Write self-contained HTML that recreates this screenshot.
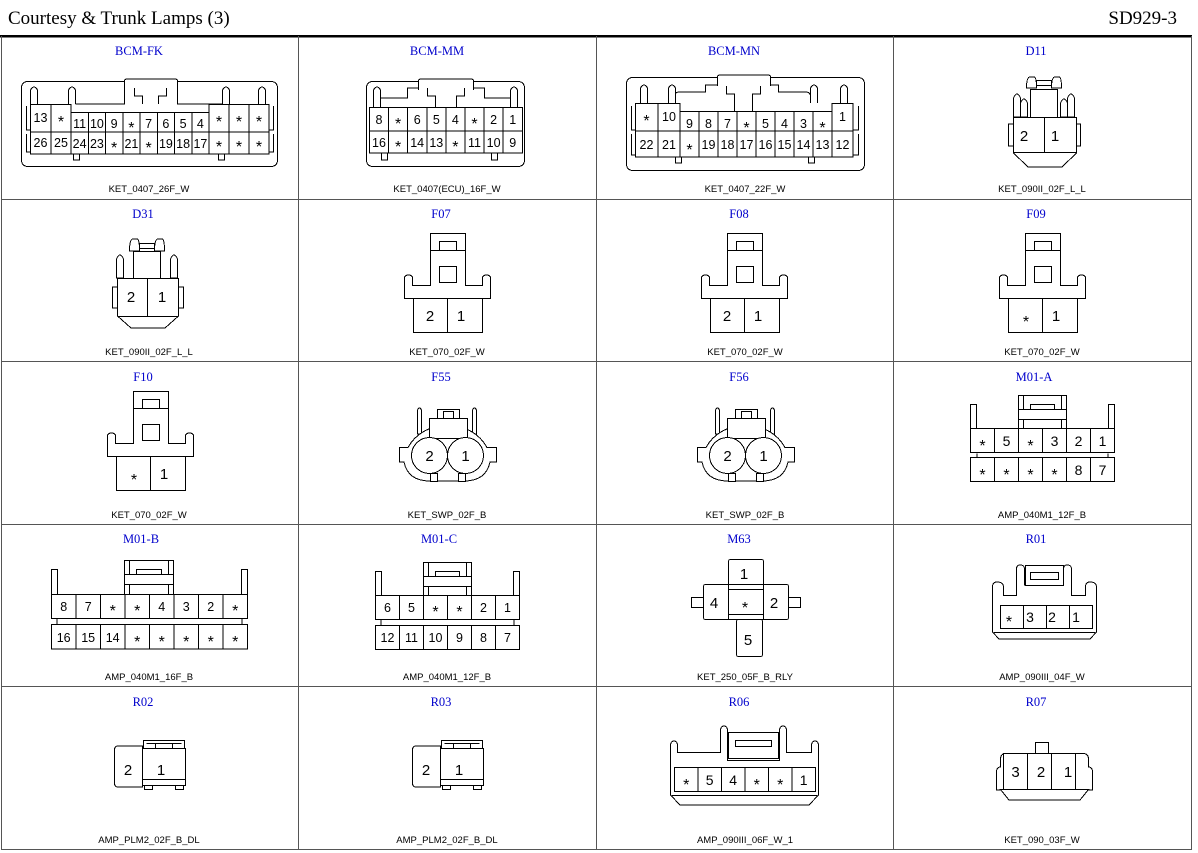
<!DOCTYPE html>
<html><head><meta charset="utf-8"><style>
html,body{margin:0;padding:0;background:#fff}
svg{display:block}
.s{fill:none;stroke:#000;stroke-width:1}
.w{fill:#fff;stroke:#000;stroke-width:1}
.t{font-family:"Liberation Serif",serif;font-size:12.5px;fill:#0000cc;text-anchor:middle}
.b{font-family:"Liberation Sans",sans-serif;font-size:9.5px;fill:#000;text-anchor:middle}
.n{font-family:"Liberation Sans",sans-serif;font-size:12.5px;fill:#000;text-anchor:middle}
.k{font-family:"Liberation Sans",sans-serif;font-size:16px;fill:#000;text-anchor:middle}
</style></head><body>
<svg width="1198" height="853" viewBox="0 0 1198 853" xmlns="http://www.w3.org/2000/svg" shape-rendering="crispEdges">
<!-- header -->
<text x="8" y="24" font-family="Liberation Serif,serif" font-size="19">Courtesy &amp; Trunk Lamps (3)</text>
<text x="1177" y="24" font-family="Liberation Serif,serif" font-size="19" text-anchor="end">SD929-3</text>
<rect x="0" y="35" width="1192" height="2.5" fill="#000"/>
<!-- grid -->
<g stroke="#555" stroke-width="1">
<line x1="1.5" y1="36" x2="1.5" y2="850"/>
<line x1="298.5" y1="36" x2="298.5" y2="850"/>
<line x1="596.5" y1="36" x2="596.5" y2="850"/>
<line x1="893.5" y1="36" x2="893.5" y2="850"/>
<line x1="1191.5" y1="36" x2="1191.5" y2="850"/>
<line x1="1" y1="199.5" x2="1192" y2="199.5"/>
<line x1="1" y1="361.5" x2="1192" y2="361.5"/>
<line x1="1" y1="524.5" x2="1192" y2="524.5"/>
<line x1="1" y1="686.5" x2="1192" y2="686.5"/>
<line x1="1" y1="849.5" x2="1192" y2="849.5"/>
</g>
<!-- titles -->
<g class="t">
<text x="139" y="55">BCM-FK</text><text x="437" y="55">BCM-MM</text><text x="734" y="55">BCM-MN</text><text x="1036" y="55">D11</text>
<text x="143" y="218">D31</text><text x="441" y="218">F07</text><text x="739" y="218">F08</text><text x="1036" y="218">F09</text>
<text x="143" y="381">F10</text><text x="441" y="381">F55</text><text x="739" y="381">F56</text><text x="1034" y="381">M01-A</text>
<text x="141" y="543">M01-B</text><text x="439" y="543">M01-C</text><text x="739" y="543">M63</text><text x="1036" y="543">R01</text>
<text x="143" y="706">R02</text><text x="441" y="706">R03</text><text x="739" y="706">R06</text><text x="1036" y="706">R07</text>
</g>
<g class="b">
<text x="149" y="192">KET_0407_26F_W</text><text x="447" y="192">KET_0407(ECU)_16F_W</text><text x="745" y="192">KET_0407_22F_W</text><text x="1042" y="192">KET_090II_02F_L_L</text>
<text x="149" y="355">KET_090II_02F_L_L</text><text x="447" y="355">KET_070_02F_W</text><text x="745" y="355">KET_070_02F_W</text><text x="1042" y="355">KET_070_02F_W</text>
<text x="149" y="518">KET_070_02F_W</text><text x="447" y="518">KET_SWP_02F_B</text><text x="745" y="518">KET_SWP_02F_B</text><text x="1042" y="518">AMP_040M1_12F_B</text>
<text x="149" y="680">AMP_040M1_16F_B</text><text x="447" y="680">AMP_040M1_12F_B</text><text x="745" y="680">KET_250_05F_B_RLY</text><text x="1042" y="680">AMP_090III_04F_W</text>
<text x="149" y="843">AMP_PLM2_02F_B_DL</text><text x="447" y="843">AMP_PLM2_02F_B_DL</text><text x="745" y="843">AMP_090III_06F_W_1</text><text x="1042" y="843">KET_090_03F_W</text>
</g>

<!-- BCM-FK -->
<g>
<rect class="w" x="21.5" y="81.5" width="256" height="85" rx="6"/>
<path class="s" d="M30.5 104 V90 Q34 84 37.5 90 V104 M68.5 104 V90 Q72 84 75.5 90 V104 M222.5 104 V90 Q226 84 229.5 90 V104 M258.5 104 V90 Q262 84 265.5 90 V104"/>
<path class="s" d="M75.5 104 H124.5 V88 H177.5 V104 H222.5"/>
<path class="w" d="M124.5 90 V81 Q124.5 79 127 79 H175 Q177.5 79 177.5 81 V90"/>
<path class="s" d="M134.5 88 V96 H142.5 V104 M158.5 104 V96 H166.5 V88"/>
<path class="s" d="M26.5 106 V130 H30.5 M26.5 134 V152 H30.5 M273.5 106 V130 H269.5 M273.5 134 V152 H269.5"/>
<path class="s" d="M73.5 154 V160 H79.5 V154 M218.5 154 V160 H224.5 V154"/>
<g class="w">
<rect x="30.5" y="104.5" width="20.5" height="27.5"/><rect x="51" y="104.5" width="20" height="27.5"/>
<rect x="30.5" y="132" width="20.5" height="22"/><rect x="51" y="132" width="20" height="22"/>
<rect x="71" y="112.5" width="17.25" height="19.5"/><rect x="88.25" y="112.5" width="17.25" height="19.5"/><rect x="105.5" y="112.5" width="17.25" height="19.5"/><rect x="122.75" y="112.5" width="17.25" height="19.5"/><rect x="140" y="112.5" width="17.25" height="19.5"/><rect x="157.25" y="112.5" width="17.25" height="19.5"/><rect x="174.5" y="112.5" width="17.25" height="19.5"/><rect x="191.75" y="112.5" width="17.25" height="19.5"/>
<rect x="71" y="132" width="17.25" height="22"/><rect x="88.25" y="132" width="17.25" height="22"/><rect x="105.5" y="132" width="17.25" height="22"/><rect x="122.75" y="132" width="17.25" height="22"/><rect x="140" y="132" width="17.25" height="22"/><rect x="157.25" y="132" width="17.25" height="22"/><rect x="174.5" y="132" width="17.25" height="22"/><rect x="191.75" y="132" width="17.25" height="22"/>
<rect x="209" y="104.5" width="20" height="27.5"/><rect x="229" y="104.5" width="20" height="27.5"/><rect x="249" y="104.5" width="20" height="27.5"/>
<rect x="209" y="132" width="20" height="22"/><rect x="229" y="132" width="20" height="22"/><rect x="249" y="132" width="20" height="22"/>
</g>
<g class="n"><text x="40.5" y="122">13</text><text x="40.5" y="147">26</text><text x="61" y="147">25</text>
<text x="79.6" y="128">11</text><text x="96.9" y="128">10</text><text x="114.1" y="128">9</text><text x="148.6" y="128">7</text><text x="165.9" y="128">6</text><text x="183.1" y="128">5</text><text x="200.4" y="128">4</text>
<text x="79.6" y="148">24</text><text x="96.9" y="148">23</text><text x="131.4" y="148">21</text><text x="165.9" y="148">19</text><text x="183.1" y="148">18</text><text x="200.4" y="148">17</text></g>
<g class="k"><text x="61" y="127">*</text><text x="131.4" y="133">*</text><text x="114.1" y="153">*</text><text x="148.6" y="153">*</text>
<text x="219" y="127">*</text><text x="239" y="127">*</text><text x="259" y="127">*</text><text x="219" y="152">*</text><text x="239" y="152">*</text><text x="259" y="152">*</text></g>
</g>

<!-- BCM-MM -->
<g>
<rect class="w" x="366.5" y="81.5" width="158" height="85" rx="6"/>
<path class="s" d="M373.5 107 V90 Q377 84 380.5 90 V107 M510.5 107 V90 Q514 84 517.5 90 V107"/>
<path class="s" d="M380.5 98 H407.5 V88 H484.5 V98 H510.5"/>
<path class="w" d="M418.5 90 V81 Q418.5 79 421 79 H471 Q473.5 79 473.5 81 V90"/>
<path class="s" d="M427.5 88 V96 H435.5 V107 M456.5 107 V96 H464.5 V88"/>
<path class="s" d="M381.5 153 V160 H387.5 V153 M491.5 153 V160 H497.5 V153"/>
<g class="w">
<rect x="369.5" y="107.5" width="19.1" height="23.5"/><rect x="388.6" y="107.5" width="19.1" height="23.5"/><rect x="407.7" y="107.5" width="19.1" height="23.5"/><rect x="426.8" y="107.5" width="19.1" height="23.5"/><rect x="445.9" y="107.5" width="19.1" height="23.5"/><rect x="465" y="107.5" width="19.1" height="23.5"/><rect x="484.1" y="107.5" width="19.1" height="23.5"/><rect x="503.2" y="107.5" width="19.1" height="23.5"/>
<rect x="369.5" y="131" width="19.1" height="22"/><rect x="388.6" y="131" width="19.1" height="22"/><rect x="407.7" y="131" width="19.1" height="22"/><rect x="426.8" y="131" width="19.1" height="22"/><rect x="445.9" y="131" width="19.1" height="22"/><rect x="465" y="131" width="19.1" height="22"/><rect x="484.1" y="131" width="19.1" height="22"/><rect x="503.2" y="131" width="19.1" height="22"/>
</g>
<g class="n"><text x="379" y="124">8</text><text x="417.2" y="124">6</text><text x="436.3" y="124">5</text><text x="455.4" y="124">4</text><text x="493.6" y="124">2</text><text x="512.7" y="124">1</text>
<text x="379" y="147">16</text><text x="417.2" y="147">14</text><text x="436.3" y="147">13</text><text x="474.5" y="147">11</text><text x="493.6" y="147">10</text><text x="512.7" y="147">9</text></g>
<g class="k"><text x="398.1" y="129">*</text><text x="474.5" y="129">*</text><text x="398.1" y="152">*</text><text x="455.4" y="152">*</text></g>
</g>

<!-- BCM-MN -->
<g>
<rect class="w" x="626.5" y="77.5" width="238" height="93" rx="6"/>
<path class="s" d="M640.5 103 V88 Q644 82 647.5 88 V103 M668.5 103 V88 Q672 82 675.5 88 V103 M810.5 103 V88 Q814 82 817.5 88 V103 M840.5 103 V88 Q844 82 847.5 88 V103"/>
<path class="s" d="M675.5 111 V94 Q675.5 92 680 92 H705.5 V85 H778.5 V92 H805 Q810.5 92 810.5 96"/>
<path class="w" d="M717.5 86 V77 Q717.5 75 720 75 H768 Q770.5 75 770.5 77 V86"/>
<path class="s" d="M726.5 86 V94 H734.5 V111 M752.5 111 V94 H760.5 V86"/>
<path class="s" d="M631.5 106 V130 H635.5 M631.5 134 V155 H635.5 M858.5 106 V130 H853.5 M858.5 134 V155 H853.5"/>
<path class="s" d="M675.5 157 V163 H681.5 V157 M808.5 157 V163 H814.5 V157"/>
<g class="w">
<rect x="635.5" y="103.5" width="22.5" height="27.5"/><rect x="658" y="103.5" width="22" height="27.5"/>
<rect x="635.5" y="131" width="22.5" height="26"/><rect x="658" y="131" width="22" height="26"/>
<rect x="680" y="111.5" width="19" height="19.5"/><rect x="699" y="111.5" width="19" height="19.5"/><rect x="718" y="111.5" width="19" height="19.5"/><rect x="737" y="111.5" width="19" height="19.5"/><rect x="756" y="111.5" width="19" height="19.5"/><rect x="775" y="111.5" width="19" height="19.5"/><rect x="794" y="111.5" width="19" height="19.5"/><rect x="813" y="111.5" width="19" height="19.5"/>
<rect x="680" y="131" width="19" height="26"/><rect x="699" y="131" width="19" height="26"/><rect x="718" y="131" width="19" height="26"/><rect x="737" y="131" width="19" height="26"/><rect x="756" y="131" width="19" height="26"/><rect x="775" y="131" width="19" height="26"/><rect x="794" y="131" width="19" height="26"/><rect x="813" y="131" width="19" height="26"/>
<rect x="832" y="103.5" width="21" height="27.5"/><rect x="832" y="131" width="21" height="26"/>
</g>
<g class="n"><text x="669" y="121">10</text><text x="689.5" y="128">9</text><text x="708.5" y="128">8</text><text x="727.5" y="128">7</text><text x="765.5" y="128">5</text><text x="784.5" y="128">4</text><text x="803.5" y="128">3</text><text x="842.5" y="121">1</text>
<text x="646.5" y="149">22</text><text x="669" y="149">21</text><text x="708.5" y="149">19</text><text x="727.5" y="149">18</text><text x="746.5" y="149">17</text><text x="765.5" y="149">16</text><text x="784.5" y="149">15</text><text x="803.5" y="149">14</text><text x="822.5" y="149">13</text><text x="842.5" y="149">12</text></g>
<g class="k"><text x="646.5" y="126">*</text><text x="746.5" y="133">*</text><text x="822.5" y="133">*</text><text x="689.5" y="155">*</text></g>
</g>

<!-- D11 -->
<g>
<path class="w" d="M1026.5 88 Q1026.5 77 1030 77 H1034 Q1036.5 77 1036.5 88 Z M1051.5 88 Q1051.5 77 1055 77 H1059 Q1061.5 77 1061.5 88 Z"/>
<rect class="w" x="1036.5" y="80.5" width="15" height="5"/>
<rect class="w" x="1030.5" y="89.5" width="27" height="28"/>
<path class="w" d="M1013.5 117 V98 Q1017 90 1020.5 98 V117 Z M1067.5 117 V98 Q1071 90 1074.5 98 V117 Z M1020.5 117 V103 Q1024 95 1027.5 103 V117 Z M1060.5 117 V103 Q1064 95 1067.5 103 V117 Z"/>
<path class="w" d="M1008.5 124 H1013.5 V146 H1008.5 Z M1076.5 124 H1080.5 V146 H1076.5 Z"/>
<path class="w" d="M1013.5 117.5 H1076.5 V153 L1062 167 H1028 L1013.5 153 Z"/>
<line class="s" x1="1013.5" y1="152.5" x2="1076.5" y2="152.5"/>
<line class="s" x1="1044.5" y1="117.5" x2="1044.5" y2="152.5"/>
<g class="n" style="font-size:15px"><text x="1024" y="141">2</text><text x="1055" y="141">1</text></g>
</g>

<!-- D31 -->
<g>
<path class="w" d="M129.5 251 Q129.5 239 133 239 H137 Q139.5 239 139.5 251 Z M154.5 251 Q154.5 239 158 239 H162 Q164.5 239 164.5 251 Z"/>
<rect class="w" x="139.5" y="243.5" width="15" height="5"/>
<rect class="w" x="133.5" y="251.5" width="27" height="27"/>
<path class="w" d="M116.5 278 V259 Q120 251 123.5 259 V278 Z M170.5 278 V259 Q174 251 177.5 259 V278 Z"/>
<path class="w" d="M112.5 287 H117.5 V308 H112.5 Z M178.5 287 H183.5 V308 H178.5 Z"/>
<path class="w" d="M117.5 278.5 H178.5 V316 L165 328 H131 L117.5 316 Z"/>
<line class="s" x1="117.5" y1="316.5" x2="178.5" y2="316.5"/>
<line class="s" x1="147.5" y1="278.5" x2="147.5" y2="316.5"/>
<g class="n" style="font-size:15px"><text x="131" y="302">2</text><text x="162" y="302">1</text></g>
</g>

<!-- F07 / F08 / F09 / F10 (KET_070 shape) -->
<g id="f07">
<path class="w" d="M404.5 298.5 V278 Q404.5 275 408.5 275 Q412.5 275 412.5 278 V285.5 H430.5 V233.5 H465.5 V285.5 H482.5 V278 Q482.5 275 486.5 275 Q490.5 275 490.5 278 V298.5 Z"/>
<line class="s" x1="430.5" y1="250.5" x2="465.5" y2="250.5"/>
<rect class="w" x="439.5" y="241.5" width="17" height="9"/>
<rect class="w" x="439.5" y="266.5" width="17" height="16"/>
<rect class="w" x="413.5" y="298.5" width="69" height="34"/>
<line class="s" x1="447.5" y1="298.5" x2="447.5" y2="332.5"/>
</g>
<g class="n" style="font-size:15px"><text x="430" y="321">2</text><text x="461" y="321">1</text></g>
<g transform="translate(297,0)">
<path class="w" d="M404.5 298.5 V278 Q404.5 275 408.5 275 Q412.5 275 412.5 278 V285.5 H430.5 V233.5 H465.5 V285.5 H482.5 V278 Q482.5 275 486.5 275 Q490.5 275 490.5 278 V298.5 Z"/>
<line class="s" x1="430.5" y1="250.5" x2="465.5" y2="250.5"/>
<rect class="w" x="439.5" y="241.5" width="17" height="9"/>
<rect class="w" x="439.5" y="266.5" width="17" height="16"/>
<rect class="w" x="413.5" y="298.5" width="69" height="34"/>
<line class="s" x1="447.5" y1="298.5" x2="447.5" y2="332.5"/>
<g class="n" style="font-size:15px"><text x="430" y="321">2</text><text x="461" y="321">1</text></g>
</g>
<g transform="translate(595,0)">
<path class="w" d="M404.5 298.5 V278 Q404.5 275 408.5 275 Q412.5 275 412.5 278 V285.5 H430.5 V233.5 H465.5 V285.5 H482.5 V278 Q482.5 275 486.5 275 Q490.5 275 490.5 278 V298.5 Z"/>
<line class="s" x1="430.5" y1="250.5" x2="465.5" y2="250.5"/>
<rect class="w" x="439.5" y="241.5" width="17" height="9"/>
<rect class="w" x="439.5" y="266.5" width="17" height="16"/>
<rect class="w" x="413.5" y="298.5" width="69" height="34"/>
<line class="s" x1="447.5" y1="298.5" x2="447.5" y2="332.5"/>
<g class="n" style="font-size:15px"><text x="461" y="321">1</text></g>
<text class="k" x="431" y="327">*</text>
</g>
<g transform="translate(-297,158)">
<path class="w" d="M404.5 298.5 V278 Q404.5 275 408.5 275 Q412.5 275 412.5 278 V285.5 H430.5 V233.5 H465.5 V285.5 H482.5 V278 Q482.5 275 486.5 275 Q490.5 275 490.5 278 V298.5 Z"/>
<line class="s" x1="430.5" y1="250.5" x2="465.5" y2="250.5"/>
<rect class="w" x="439.5" y="241.5" width="17" height="9"/>
<rect class="w" x="439.5" y="266.5" width="17" height="16"/>
<rect class="w" x="413.5" y="298.5" width="69" height="34"/>
<line class="s" x1="447.5" y1="298.5" x2="447.5" y2="332.5"/>
<g class="n" style="font-size:15px"><text x="461" y="321">1</text></g>
<text class="k" x="431" y="327">*</text>
</g>

<!-- F55 / F56 -->
<g transform="translate(-298,0)">
<path class="w" d="M715.5 434 V410 Q717.5 406 719.5 410 V434 Z M770.5 434 V410 Q772.5 406 774.5 410 V434 Z"/>
<path class="w" d="M697.5 447.5 H706 A44 40 0 0 1 785 447.5 H794.5 V462 H788 Q784 481 762 481 H728 Q706 481 702 462 H697.5 Z"/>
<rect class="w" x="727.5" y="418.5" width="38" height="20"/>
<rect class="w" x="735.5" y="409.5" width="22" height="9"/>
<rect class="w" x="741.5" y="411.5" width="10" height="7"/>
<rect class="w" x="728.5" y="473.5" width="7" height="8"/><rect class="w" x="756.5" y="473.5" width="7" height="8"/>
<circle class="w" cx="727.5" cy="455.5" r="18"/>
<circle class="w" cx="763.5" cy="455.5" r="18"/>
<g class="n" style="font-size:15px"><text x="727.5" y="461">2</text><text x="763.5" y="461">1</text></g>
</g>
<g>
<path class="w" d="M715.5 434 V410 Q717.5 406 719.5 410 V434 Z M770.5 434 V410 Q772.5 406 774.5 410 V434 Z"/>
<path class="w" d="M697.5 447.5 H706 A44 40 0 0 1 785 447.5 H794.5 V462 H788 Q784 481 762 481 H728 Q706 481 702 462 H697.5 Z"/>
<rect class="w" x="727.5" y="418.5" width="38" height="20"/>
<rect class="w" x="735.5" y="409.5" width="22" height="9"/>
<rect class="w" x="741.5" y="411.5" width="10" height="7"/>
<rect class="w" x="728.5" y="473.5" width="7" height="8"/><rect class="w" x="756.5" y="473.5" width="7" height="8"/>
<circle class="w" cx="727.5" cy="455.5" r="18"/>
<circle class="w" cx="763.5" cy="455.5" r="18"/>
<g class="n" style="font-size:15px"><text x="727.5" y="461">2</text><text x="763.5" y="461">1</text></g>
</g>

<!-- M01-A -->
<g>
<rect class="w" x="970.5" y="404.5" width="6" height="24"/><rect class="w" x="1108.5" y="404.5" width="6" height="24"/>
<rect class="w" x="1018.5" y="395.5" width="48" height="33"/>
<rect class="w" x="1023.5" y="395.5" width="38" height="33"/>
<rect class="w" x="1018.5" y="409.5" width="48" height="10"/>
<rect class="w" x="1030.5" y="404.5" width="24" height="5"/>
<line class="s" x1="977" y1="453.5" x2="977" y2="458"/><line class="s" x1="1108" y1="453.5" x2="1108" y2="458"/>
<g class="w">
<rect x="970.5" y="428.5" width="24" height="24"/><rect x="994.5" y="428.5" width="24" height="24"/><rect x="1018.5" y="428.5" width="24" height="24"/><rect x="1042.5" y="428.5" width="24" height="24"/><rect x="1066.5" y="428.5" width="24" height="24"/><rect x="1090.5" y="428.5" width="24" height="24"/>
<rect x="970.5" y="457.5" width="24" height="24"/><rect x="994.5" y="457.5" width="24" height="24"/><rect x="1018.5" y="457.5" width="24" height="24"/><rect x="1042.5" y="457.5" width="24" height="24"/><rect x="1066.5" y="457.5" width="24" height="24"/><rect x="1090.5" y="457.5" width="24" height="24"/>
</g>
<g class="n" style="font-size:14px"><text x="1006.5" y="446">5</text><text x="1054.5" y="446">3</text><text x="1078.5" y="446">2</text><text x="1102.5" y="446">1</text><text x="1078.5" y="475">8</text><text x="1102.5" y="475">7</text></g>
<g class="k"><text x="982.5" y="451">*</text><text x="1030.5" y="451">*</text><text x="982.5" y="480">*</text><text x="1006.5" y="480">*</text><text x="1030.5" y="480">*</text><text x="1054.5" y="480">*</text></g>
</g>

<!-- M01-B -->
<g>
<rect class="w" x="51.5" y="569.5" width="6" height="25"/><rect class="w" x="241.5" y="569.5" width="6" height="25"/>
<rect class="w" x="124.5" y="560.5" width="49" height="34"/>
<rect class="w" x="129.5" y="560.5" width="39" height="34"/>
<rect class="w" x="124.5" y="574.5" width="49" height="10"/>
<rect class="w" x="136.5" y="569.5" width="25" height="5"/>
<line class="s" x1="57" y1="618.5" x2="57" y2="624"/><line class="s" x1="242" y1="618.5" x2="242" y2="624"/>
<g class="w">
<rect x="51.5" y="594.5" width="24.5" height="24"/><rect x="76" y="594.5" width="24.5" height="24"/><rect x="100.5" y="594.5" width="24.5" height="24"/><rect x="125" y="594.5" width="24.5" height="24"/><rect x="149.5" y="594.5" width="24.5" height="24"/><rect x="174" y="594.5" width="24.5" height="24"/><rect x="198.5" y="594.5" width="24.5" height="24"/><rect x="223" y="594.5" width="24.5" height="24"/>
<rect x="51.5" y="624.5" width="24.5" height="24.5"/><rect x="76" y="624.5" width="24.5" height="24.5"/><rect x="100.5" y="624.5" width="24.5" height="24.5"/><rect x="125" y="624.5" width="24.5" height="24.5"/><rect x="149.5" y="624.5" width="24.5" height="24.5"/><rect x="174" y="624.5" width="24.5" height="24.5"/><rect x="198.5" y="624.5" width="24.5" height="24.5"/><rect x="223" y="624.5" width="24.5" height="24.5"/>
</g>
<g class="n"><text x="63.7" y="611">8</text><text x="88.2" y="611">7</text><text x="161.7" y="611">4</text><text x="186.2" y="611">3</text><text x="210.7" y="611">2</text>
<text x="63.7" y="642">16</text><text x="88.2" y="642">15</text><text x="112.7" y="642">14</text></g>
<g class="k"><text x="112.7" y="616">*</text><text x="137.2" y="616">*</text><text x="235.2" y="616">*</text>
<text x="137.2" y="647">*</text><text x="161.7" y="647">*</text><text x="186.2" y="647">*</text><text x="210.7" y="647">*</text><text x="235.2" y="647">*</text></g>
</g>

<!-- M01-C -->
<g>
<rect class="w" x="375.5" y="571.5" width="6" height="24"/><rect class="w" x="513.5" y="571.5" width="6" height="24"/>
<rect class="w" x="423.5" y="562.5" width="48" height="33"/>
<rect class="w" x="428.5" y="562.5" width="38" height="33"/>
<rect class="w" x="423.5" y="576.5" width="48" height="10"/>
<rect class="w" x="435.5" y="571.5" width="24" height="5"/>
<line class="s" x1="381" y1="619.5" x2="381" y2="625"/><line class="s" x1="514" y1="619.5" x2="514" y2="625"/>
<g class="w">
<rect x="375.5" y="595.5" width="24" height="24"/><rect x="399.5" y="595.5" width="24" height="24"/><rect x="423.5" y="595.5" width="24" height="24"/><rect x="447.5" y="595.5" width="24" height="24"/><rect x="471.5" y="595.5" width="24" height="24"/><rect x="495.5" y="595.5" width="24" height="24"/>
<rect x="375.5" y="625.5" width="24" height="24"/><rect x="399.5" y="625.5" width="24" height="24"/><rect x="423.5" y="625.5" width="24" height="24"/><rect x="447.5" y="625.5" width="24" height="24"/><rect x="471.5" y="625.5" width="24" height="24"/><rect x="495.5" y="625.5" width="24" height="24"/>
</g>
<g class="n"><text x="387.5" y="612">6</text><text x="411.5" y="612">5</text><text x="483.5" y="612">2</text><text x="507.5" y="612">1</text>
<text x="387.5" y="642">12</text><text x="411.5" y="642">11</text><text x="435.5" y="642">10</text><text x="459.5" y="642">9</text><text x="483.5" y="642">8</text><text x="507.5" y="642">7</text></g>
<g class="k"><text x="435.5" y="617">*</text><text x="459.5" y="617">*</text></g>
</g>

<!-- M63 -->
<g>
<rect class="w" x="691.5" y="597.5" width="12" height="10"/><rect class="w" x="788.5" y="597.5" width="12" height="10"/>
<rect class="w" x="728.5" y="559.5" width="35" height="26" rx="2"/>
<rect class="w" x="703.5" y="584.5" width="85" height="35" rx="2"/>
<line class="s" x1="728.5" y1="584.5" x2="728.5" y2="619.5"/><line class="s" x1="763.5" y1="584.5" x2="763.5" y2="619.5"/>
<line class="s" x1="728.5" y1="589.5" x2="763.5" y2="589.5"/><line class="s" x1="728.5" y1="614.5" x2="763.5" y2="614.5"/>
<rect class="w" x="736.5" y="619.5" width="26" height="37" rx="2"/>
<g class="n" style="font-size:15px"><text x="744" y="579">1</text><text x="714" y="608">4</text><text x="774" y="608">2</text><text x="748" y="645">5</text></g>
<text class="k" x="745" y="613">*</text>
</g>

<!-- R01 -->
<g>
<path class="w" d="M992.5 632 V587 Q992.5 582 997 582 Q1003.5 582 1003.5 587 V595.5 H1016.5 V569 Q1016.5 565 1020 565 Q1024.5 565 1024.5 569 V585 H1063.5 V569 Q1063.5 565 1067 565 Q1071.5 565 1071.5 569 V595.5 H1085.5 V587 Q1085.5 582 1090 582 Q1096.5 582 1096.5 587 V632 L1090 639 H999 L992.5 632 Z"/>
<rect class="w" x="1025.5" y="565.5" width="38" height="20"/>
<rect class="s" x="1030.5" y="572.5" width="28" height="7" fill="#999"/>
<line class="s" x1="994" y1="632.5" x2="1095" y2="632.5"/>
<g class="w"><rect x="1000.5" y="605.5" width="23" height="23"/><rect x="1023.5" y="605.5" width="23" height="23"/><rect x="1046.5" y="605.5" width="23" height="23"/><rect x="1069.5" y="605.5" width="23" height="23"/></g>
<g class="n" style="font-size:14px"><text x="1030" y="622">3</text><text x="1052" y="622">2</text><text x="1076" y="622">1</text></g>
<text class="k" x="1009" y="627">*</text>
</g>

<!-- R02 / R03 -->
<g id="r02">
<path class="w" d="M142.5 746 H118 Q114.5 746 114.5 750 V783 Q114.5 787 118 787 H142.5 Z"/>
<rect class="w" x="142.5" y="748.5" width="43" height="37"/>
<rect class="w" x="143.5" y="740.5" width="41" height="8"/>
<line class="s" x1="155.5" y1="743.5" x2="155.5" y2="748"/><line class="s" x1="172.5" y1="743.5" x2="172.5" y2="748"/>
<line class="s" x1="146.5" y1="743.5" x2="181.5" y2="743.5"/>
<rect class="w" x="144.5" y="785.5" width="8" height="4"/><rect class="w" x="175.5" y="785.5" width="8" height="4"/>
<line class="s" x1="142.5" y1="779.5" x2="185.5" y2="779.5"/>
<g class="n" style="font-size:15px"><text x="128" y="775">2</text><text x="161" y="775">1</text></g>
</g>
<g transform="translate(298,0)">
<path class="w" d="M142.5 746 H118 Q114.5 746 114.5 750 V783 Q114.5 787 118 787 H142.5 Z"/>
<rect class="w" x="142.5" y="748.5" width="43" height="37"/>
<rect class="w" x="143.5" y="740.5" width="41" height="8"/>
<line class="s" x1="155.5" y1="743.5" x2="155.5" y2="748"/><line class="s" x1="172.5" y1="743.5" x2="172.5" y2="748"/>
<line class="s" x1="146.5" y1="743.5" x2="181.5" y2="743.5"/>
<rect class="w" x="144.5" y="785.5" width="8" height="4"/><rect class="w" x="175.5" y="785.5" width="8" height="4"/>
<line class="s" x1="142.5" y1="779.5" x2="185.5" y2="779.5"/>
<g class="n" style="font-size:15px"><text x="128" y="775">2</text><text x="161" y="775">1</text></g>
</g>

<!-- R06 -->
<g>
<path class="w" d="M670.5 795 V746 Q670.5 741 674 741 Q677.5 741 677.5 746 V752.5 H720.5 V731 Q720.5 726 724 726 Q727.5 726 727.5 731 V760.5 H779.5 V731 Q779.5 726 783 726 Q786.5 726 786.5 731 V752.5 H811.5 V746 Q811.5 741 815 741 Q818.5 741 818.5 746 V795 L809 805 H680 Z"/>
<rect class="w" x="728.5" y="732.5" width="50" height="26"/>
<rect class="s" x="735.5" y="740.5" width="36" height="6" fill="#999"/>
<line class="s" x1="672" y1="795.5" x2="817" y2="795.5"/>
<g class="w"><rect x="674.5" y="767.5" width="23.5" height="24"/><rect x="698" y="767.5" width="23.5" height="24"/><rect x="721.5" y="767.5" width="23.5" height="24"/><rect x="745" y="767.5" width="23.5" height="24"/><rect x="768.5" y="767.5" width="23.5" height="24"/><rect x="792" y="767.5" width="23.5" height="24"/></g>
<g class="n" style="font-size:14px"><text x="709.7" y="785">5</text><text x="733.2" y="785">4</text><text x="803.7" y="785">1</text></g>
<g class="k"><text x="686.2" y="790">*</text><text x="756.7" y="790">*</text><text x="780.2" y="790">*</text></g>
</g>

<!-- R07 -->
<g>
<rect class="w" x="1035.5" y="742.5" width="13" height="11"/>
<path class="w" d="M996.5 790 V772 Q996.5 767 1000.5 767 V759 Q1000.5 753.5 1006 753.5 H1083 Q1088.5 753.5 1088.5 759 V767 Q1092.5 767 1092.5 772 V790 Z"/>
<path class="w" d="M1000.5 789.5 H1088.5 L1080 800 H1009 Z"/>
<g class="w"><rect x="1003.5" y="753.5" width="24" height="36"/><rect x="1027.5" y="753.5" width="24" height="36"/><rect x="1051.5" y="753.5" width="24" height="36"/></g>
<g class="n" style="font-size:15px"><text x="1015.5" y="777">3</text><text x="1041" y="777">2</text><text x="1068" y="777">1</text></g>
</g>
</svg>
</body></html>
